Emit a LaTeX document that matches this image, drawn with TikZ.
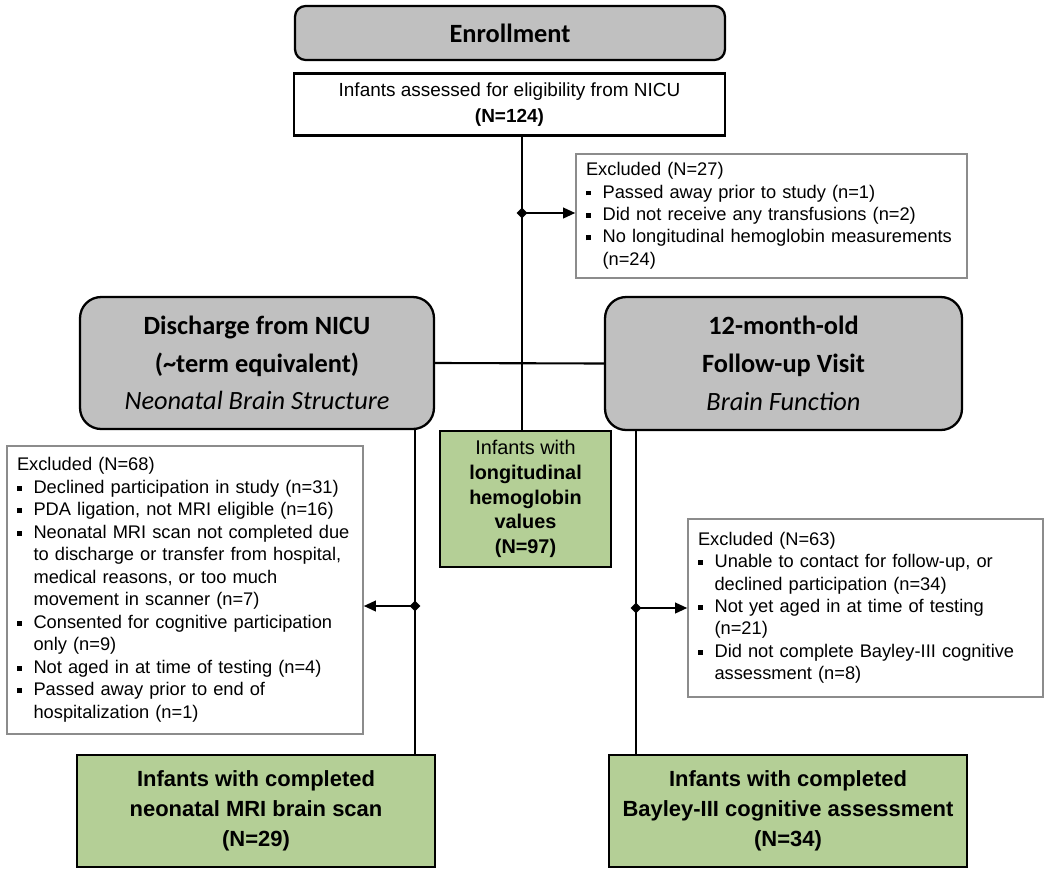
\documentclass[tikz,border=0pt]{standalone}
\usepackage{fontspec}
\setmainfont{Liberation Sans}
\newfontfamily\calibri{Carlito}
\usetikzlibrary{arrows.meta, shapes.geometric}

\definecolor{phasegray}{RGB}{192,192,192}
\definecolor{resultgreen}{RGB}{180,207,150}
\definecolor{exclgray}{RGB}{140,140,140}

\newcommand{\exbullet}{\rule[0.14em]{0.27em}{0.27em}}
\newcommand{\exitem}[1]{\strut\par\prevdepth=\dp\strutbox\noindent\makebox[9.4pt][l]{\exbullet}%
    \parbox[t]{\dimexpr\linewidth-9.4pt\relax}{\raggedright\strut #1\strut}}

\begin{document}
\begin{tikzpicture}[x=0.02cm, y=-0.02cm,
    phase/.style={draw, line width=1.3pt, fill=phasegray, rounded corners=12pt, align=center,
        font=\calibri\bfseries\fontsize{15}{21.5}\selectfont},
    plain/.style={draw, line width=1.2pt, fill=white, align=center,
        font=\fontsize{10.8}{15}\selectfont},
    excl/.style={draw=exclgray, line width=0.8pt, fill=white, align=left, inner xsep=0.2cm,
        font=\fontsize{10.4}{12.8}\selectfont},
    result/.style={draw, line width=1.2pt, fill=resultgreen, align=center,
        font=\bfseries\fontsize{12.5}{17}\selectfont},
    jdot/.style={diamond, fill=black, inner sep=0pt, minimum size=0.22cm},
    link/.style={line width=1.4pt},
    arrow/.style={line width=1.4pt, -{Triangle[length=7pt, width=6pt]}}]

    % Canvas
    \path[use as bounding box, fill=white] (0,0) rectangle (1050,875);

    % Enrollment
    \node[phase, rounded corners=6pt, minimum width=8.6cm, minimum height=1.08cm] (enroll) at (510,33) {Enrollment};
    \node[plain, minimum width=8.62cm, minimum height=1.24cm] (assessed) at (509.5,104.5)
        {Infants assessed for eligibility from NICU\\\textbf{(N=124)}};
    \node[excl, text width=7.42cm, minimum height=2.44cm] (excltop) at (771.5,216)
        {Excluded (N=27)%
        \exitem{Passed away prior to study (n=1)}%
        \exitem{Did not receive any transfusions (n=2)}%
        \exitem{No longitudinal hemoglobin measurements\\(n=24)}};

    % Phases
    \node[phase, minimum width=7.08cm, minimum height=2.64cm] (discharge) at (257,363)
        {Discharge from NICU\\(\textasciitilde term equivalent)\\{\mdseries\itshape Neonatal Brain Structure}};
    \node[phase, minimum width=7.14cm, minimum height=2.66cm] (followup) at (783.5,363.5)
        {12-month-old\\Follow-up Visit\\{\mdseries\itshape Brain Function}};
    \node[result, font=\fontsize{11.3}{14}\selectfont, minimum width=3.42cm, minimum height=2.72cm] (hbvalues) at (525.5,499)
        {Infants with\\\textbf{longitudinal}\\\textbf{hemoglobin}\\\textbf{values}\\\textbf{(N=97)}};

    % Exclusions
    \node[excl, text width=6.72cm, minimum height=5.76cm] (exclmri) at (185,590)
        {Excluded (N=68)%
        \exitem{Declined participation in study (n=31)}%
        \exitem{PDA ligation, not MRI eligible (n=16)}%
        \exitem{Neonatal MRI scan not completed due\\to discharge or transfer from hospital,\\medical reasons, or too much\\movement in scanner (n=7)}%
        \exitem{Consented for cognitive participation\\only (n=9)}%
        \exitem{Not aged in at time of testing (n=4)}%
        \exitem{Passed away prior to end of\\hospitalization (n=1)}};
    \node[excl, text width=6.7cm, minimum height=3.56cm] (exclbayley) at (865.5,608)
        {Excluded (N=63)%
        \exitem{Unable to contact for follow-up, or\\declined participation (n=34)}%
        \exitem{Not yet aged in at time of testing\\(n=21)}%
        \exitem{Did not complete Bayley-III cognitive\\assessment (n=8)}};

    % Outcomes
    \node[result, minimum width=7.16cm, minimum height=2.24cm] (mri) at (256,811)
        {Infants with completed\\neonatal MRI brain scan\\(N=29)};
    \node[result, minimum width=7.16cm, minimum height=2.24cm] (bayley) at (788,811)
        {Infants with completed\\Bayley-III cognitive assessment\\(N=34)};

    % Junctions
    \node[jdot] (jtop) at (522,213) {};
    \node[jdot] (jmri) at (415,606) {};
    \node[jdot] (jbay) at (636,608) {};

    % Lines
    \draw[link] (assessed.south -| jtop) -- (jtop.center) -- (hbvalues.north -| jtop);
    \draw[link, line width=1.2pt] (discharge.east) -- (followup.west);
    \draw[link] (discharge.south -| jmri) -- (jmri.center) -- (mri.north -| jmri);
    \draw[link] (followup.south -| jbay) -- (jbay.center) -- (bayley.north -| jbay);

    % Arrows
    \draw[arrow] (jtop.center) -- (jtop -| excltop.west);
    \draw[arrow] (jmri.center) -- (jmri -| exclmri.east);
    \draw[arrow] (jbay.center) -- (jbay -| exclbayley.west);

\end{tikzpicture}
\end{document}
